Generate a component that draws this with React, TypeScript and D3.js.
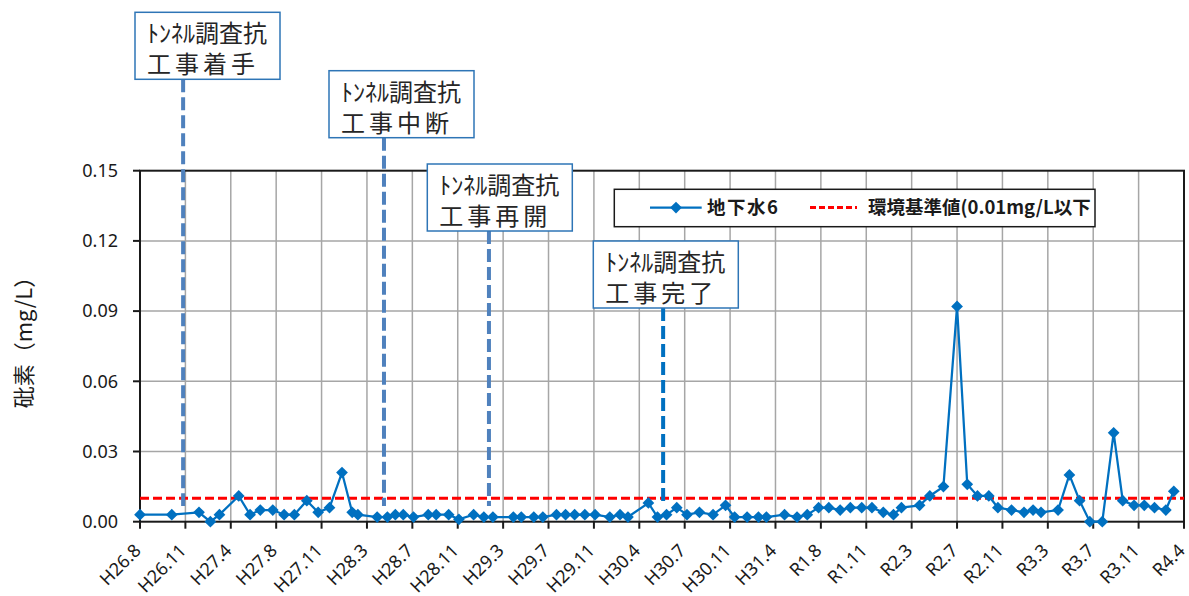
import React from "react";
import * as d3 from "d3";

// ---- data ----
const tickLabels = [
  "H26.8", "H26.11", "H27.4", "H27.8", "H27.11", "H28.3", "H28.7", "H28.11",
  "H29.3", "H29.7", "H29.11", "H30.4", "H30.7", "H30.11", "H31.4", "R1.8",
  "R1.11", "R2.3", "R2.7", "R2.11", "R3.3", "R3.7", "R3.11", "R4.4",
];
// months elapsed since H26.8 for each sample
const sampleMonths = [
  0, 2.8, 5.2, 6.2, 7.0, 8.7, 9.7, 10.6, 11.7, 12.7, 13.6, 14.7, 15.7, 16.7, 17.8, 18.7, 19.2,
  20.9, 21.8, 22.5, 23.2, 24.1, 25.4, 26.1, 27.2, 28.1, 29.4, 30.3, 31.1,
  32.9, 33.6, 34.7, 35.5, 36.7, 37.5, 38.3, 39.2, 40.1, 41.4, 42.3, 43.0,
  44.8, 45.6, 46.4, 47.3, 48.2, 49.3, 50.5, 51.6, 52.4, 53.5, 54.5, 55.2,
  56.8, 57.9, 58.8, 59.8, 60.7, 61.7, 62.6, 63.6, 64.5, 65.5, 66.4, 67.1,
  68.7, 69.6, 70.8, 72.0, 72.9, 73.8, 74.8, 75.6, 76.8, 77.9, 78.7, 79.4,
  80.9, 81.9, 82.8, 83.7, 84.8, 85.8, 86.6, 87.6, 88.5, 89.4, 90.4, 91.1,
];
const arsenicValues = [
  0.003, 0.003, 0.004, 0.0, 0.003, 0.011, 0.003, 0.005, 0.005, 0.003, 0.003, 0.009, 0.004, 0.006, 0.021, 0.004, 0.003,
  0.002, 0.002, 0.003, 0.003, 0.002, 0.003, 0.003, 0.003, 0.001, 0.003, 0.002, 0.002,
  0.002, 0.002, 0.002, 0.002, 0.003, 0.003, 0.003, 0.003, 0.003, 0.002, 0.003, 0.002,
  0.008, 0.002, 0.003, 0.006, 0.003, 0.004, 0.003, 0.007, 0.002, 0.002, 0.002, 0.002,
  0.003, 0.002, 0.003, 0.006, 0.006, 0.005, 0.006, 0.006, 0.006, 0.004, 0.003, 0.006,
  0.007, 0.011, 0.015, 0.092, 0.016, 0.011, 0.011, 0.006, 0.005, 0.004, 0.005, 0.004,
  0.005, 0.020, 0.009, 0.0, 0.0, 0.038, 0.009, 0.007, 0.007, 0.006, 0.005, 0.013,
];
const yTicks = [0, 0.03, 0.06, 0.09, 0.12, 0.15];
const standardValue = 0.01;
const seriesName = "地下水6";
const standardName = "環境基準値(0.01mg/L以下";
const yTitle = "砒素（mg/L）";
const eventMonths = [3.8, 21.5, 30.75, 46.1];
const eventLine1 = "ﾄﾝﾈﾙ調査抗";
const eventLine2 = ["工事着手", "工事中断", "工事再開", "工事完了"];

// ---- layout ----
const W = 1189, H = 596;
const plot = { left: 140, right: 1184, top: 170.7, bottom: 521.7 };
const boxLayout = [
  { x: 135, y: 12.3 },
  { x: 329, y: 70.7 },
  { x: 427.3, y: 164 },
  { x: 593.3, y: 241 },
];
const boxW = 145, boxH = 67;
const eventColors = ["#4F81BD", "#4F81BD", "#4F81BD", "#0070C0"];
const lineEndY = 506;

export default function App() {
  const x = d3.scaleLinear().domain([0, (tickLabels.length - 1) * 4]).range([plot.left, plot.right]);
  const y = d3.scaleLinear().domain([0, 0.15]).range([plot.bottom, plot.top]);
  const pts = sampleMonths.map((m, i) => [m, arsenicValues[i]] as [number, number]);
  const line = d3.line<[number, number]>().x(d => x(d[0])).y(d => y(d[1]));
  const diamond = d3.symbol().type(d3.symbolDiamond2).size(88)() as string;
  const font = "'Noto Sans', 'Noto Sans CJK JP', sans-serif";
  const cjk = "'Noto Sans CJK JP', 'Noto Sans', sans-serif";
  const tickIdx = tickLabels.map((_, i) => i * 4);

  return (
    <svg width={W} height={H} style={{ position: "absolute", left: 0, top: 0, background: "#fff" }}>
      {/* gridlines */}
      {yTicks.slice(1, -1).map(t => (
        <line key={"gy" + t} x1={plot.left} x2={plot.right} y1={y(t)} y2={y(t)} stroke="#A6A6A6" strokeWidth={1.5} />
      ))}
      {tickIdx.slice(1, -1).map(t => (
        <line key={"gx" + t} x1={x(t)} x2={x(t)} y1={plot.top} y2={plot.bottom} stroke="#A6A6A6" strokeWidth={1.5} />
      ))}
      {/* frame */}
      <rect x={plot.left} y={plot.top} width={plot.right - plot.left} height={plot.bottom - plot.top} fill="none" stroke="#1a1a1a" strokeWidth={2} />
      {/* ticks */}
      {yTicks.map(t => (
        <g key={"ty" + t}>
          <line x1={plot.left - 7} x2={plot.left} y1={y(t)} y2={y(t)} stroke="#1a1a1a" strokeWidth={2} />
          <text x={plot.left - 22} y={y(t)} dy="0.35em" textAnchor="end" fontSize={18} fontFamily={font} fill="#1a1a1a">
            {t.toFixed(2)}
          </text>
        </g>
      ))}
      {tickIdx.map((t, i) => (
        <g key={"tx" + t}>
          <line x1={x(t)} x2={x(t)} y1={plot.bottom} y2={plot.bottom + 7} stroke="#1a1a1a" strokeWidth={2} />
          <g transform={`translate(${x(t) + 2},${plot.bottom + 30}) rotate(-45)`}>
            <text textAnchor="end" fontSize={18} fontFamily={font} fill="#1a1a1a">
              {tickLabels[i]}
            </text>
          </g>
        </g>
      ))}
      {/* y title */}
      <text transform={`translate(32,337) rotate(-90)`} textAnchor="middle" fontSize={22} fontFamily={cjk} fill="#1a1a1a">
        {yTitle}
      </text>
      {/* standard line */}
      <line x1={plot.left} x2={plot.right} y1={y(standardValue)} y2={y(standardValue)} stroke="#FF0000" strokeWidth={3} strokeDasharray="9,4" />
      {/* series */}
      <path d={line(pts) || ""} fill="none" stroke="#0070C0" strokeWidth={2.25} />
      {pts.map((p, i) => (
        <path key={"m" + i} d={diamond} transform={`translate(${x(p[0])},${y(p[1])})`} fill="#0070C0" />
      ))}
      {/* event callouts */}
      {eventMonths.map((m, i) => {
        const b = boxLayout[i];
        return (
          <g key={"ev" + i}>
            <line x1={x(m)} x2={x(m)} y1={b.y + boxH} y2={lineEndY} stroke={eventColors[i]} strokeWidth={4} strokeDasharray="13,5" />
            <rect x={b.x} y={b.y} width={boxW} height={boxH} fill="#fff" stroke="#2E75B6" strokeWidth={1.5} />
            <text fontSize={24} fontFamily={cjk} fill="#262626">
              <tspan x={b.x + 12} y={b.y + 30}>{eventLine1}</tspan>
              <tspan x={b.x + 12} y={b.y + 61} letterSpacing={4}>{eventLine2[i]}</tspan>
            </text>
          </g>
        );
      })}
      {/* legend */}
      <g>
        <rect x={614.3} y={189.3} width={480.7} height={37.4} fill="#fff" stroke="#1a1a1a" strokeWidth={1.5} />
        <line x1={650} x2={701.7} y1={207.5} y2={207.5} stroke="#0070C0" strokeWidth={2.25} />
        <path d={diamond} transform="translate(676,207.5)" fill="#0070C0" />
        <text x={707} y={207.5} dy="0.36em" fontSize={18.5} fontWeight="bold" fontFamily={cjk} fill="#1a1a1a" letterSpacing={1.5}>{seriesName}</text>
        <line x1={810} x2={857} y1={207.5} y2={207.5} stroke="#FF0000" strokeWidth={3} strokeDasharray="6,3" />
        <text x={868} y={207.5} dy="0.36em" fontSize={18.5} fontWeight="bold" fontFamily={cjk} fill="#1a1a1a">{standardName}</text>
      </g>
    </svg>
  );
}
